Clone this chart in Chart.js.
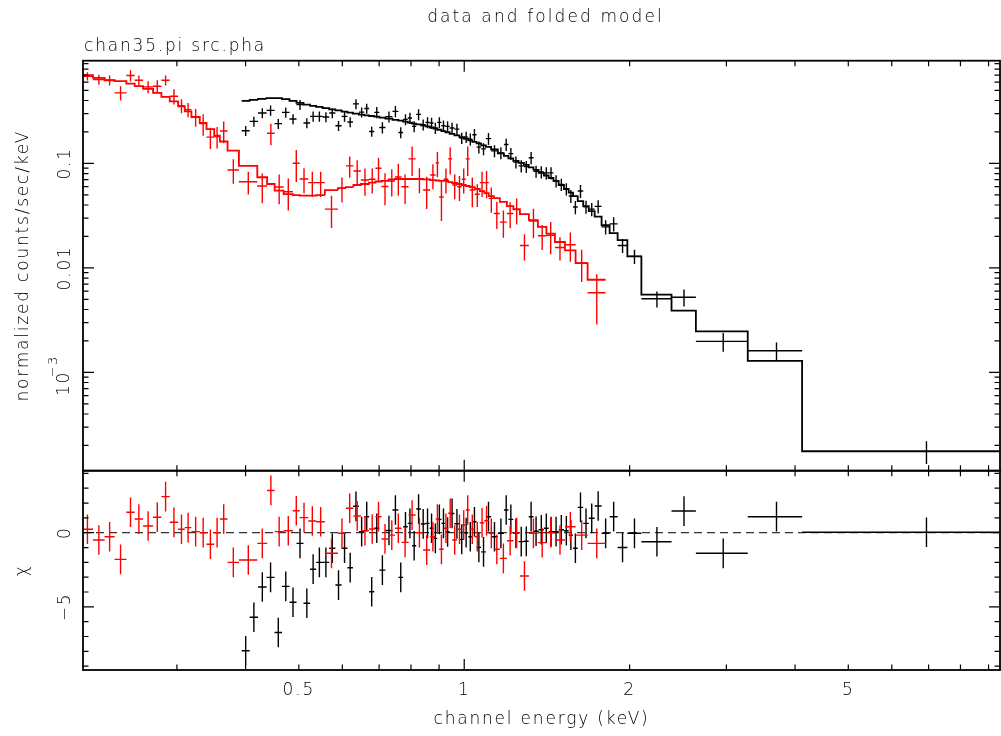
<!DOCTYPE html>
<html>
<head>
<meta charset="utf-8">
<script src="https://cdn.jsdelivr.net/npm/chart.js@4/dist/chart.umd.min.js"></script>
<style>
  html, body { margin: 0; padding: 0; background: #ffffff; }
  #wrap { position: relative; width: 1001px; height: 736px; }
  #wrap canvas { position: absolute; left: 0; top: 0; }
</style>
</head>
<body>
<div id="wrap">
  <canvas id="spec" width="1001" height="736"></canvas>
  <canvas id="resid" width="1001" height="736"></canvas>
</div>
<script>
// ---- spectrum group 2 (red): channel energy (keV), half bin width, rate, error, folded model, chi ----
const redEnergy = [0.2062,0.2163,0.2263,0.2369,0.2470,0.2558,0.2659,0.2763,0.2861,0.2963,
  0.3058,0.3144,0.3245,0.3349,0.3452,0.3550,0.3650,0.3800,0.4046,0.4290,
  0.4448,0.4605,0.4784,0.4947,0.5110,0.5291,0.5479,0.5734,0.5991,0.6189,
  0.6386,0.6597,0.6801,0.6982,0.7175,0.7382,0.7587,0.7805,0.8038,0.8288,
  0.8544,0.8770,0.8937,0.9089,0.9263,0.9429,0.9609,0.9803,0.9979,1.0148,
  1.0343,1.0563,1.0775,1.0981,1.1202,1.1464,1.1783,1.2123,1.2458,1.2871,
  1.3365,1.3864,1.4367,1.4938,1.5600,1.6359,1.7427];
const redHalfWidth = [0.0049,0.0053,0.0048,0.0059,0.0043,0.0045,0.0056,0.0048,0.0050,0.0052,
  0.0043,0.0044,0.0057,0.0048,0.0056,0.0042,0.0059,0.0091,0.0156,0.0089,
  0.0070,0.0087,0.0092,0.0072,0.0092,0.0089,0.0099,0.0157,0.0101,0.0098,
  0.0100,0.0111,0.0093,0.0088,0.0105,0.0102,0.0104,0.0115,0.0119,0.0131,
  0.0126,0.0101,0.0066,0.0086,0.0088,0.0079,0.0101,0.0093,0.0084,0.0085,
  0.0110,0.0111,0.0102,0.0104,0.0118,0.0144,0.0175,0.0165,0.0171,0.0243,
  0.0252,0.0247,0.0256,0.0315,0.0347,0.0412,0.0656];
const redRate = [0.683,0.635,0.625,0.473,0.694,0.625,0.540,0.548,0.625,0.439,
  0.357,0.327,0.278,0.240,0.1786,0.181,0.204,0.0866,0.0668,0.0608,
  0.1943,0.0594,0.0536,0.1004,0.0709,0.0654,0.0654,0.0365,0.0577,0.0946,
  0.0847,0.0693,0.0705,0.0899,0.0601,0.0679,0.0741,0.0597,0.1105,0.0709,
  0.0556,0.0775,0.1011,0.0477,0.0705,0.1105,0.0621,0.0597,0.0705,0.1105,
  0.0556,0.0506,0.0654,0.0654,0.0463,0.0332,0.0274,0.0332,0.0361,0.0164,
  0.0280,0.0203,0.0205,0.0157,0.01664,0.01112,0.00578];
const redError = [0.061,0.070,0.069,0.073,0.085,0.069,0.072,0.077,0.069,0.073,
  0.055,0.051,0.054,0.056,0.041,0.042,0.048,0.0227,0.0164,0.0192,
  0.0455,0.0187,0.0182,0.034,0.0191,0.0176,0.0176,0.0124,0.0155,0.0218,
  0.0222,0.0202,0.019,0.0236,0.0204,0.0198,0.0251,0.0188,0.0348,0.0191,
  0.0189,0.0208,0.0272,0.0196,0.019,0.0323,0.0167,0.0161,0.019,0.0348,
  0.0175,0.0124,0.0176,0.0191,0.0125,0.0097,0.0080,0.0093,0.0101,0.0046,
  0.0088,0.0055,0.0070,0.0039,0.0052,0.0038,0.0029];
const redModel = [0.699,0.659,0.625,0.612,0.581,0.548,0.517,0.473,0.433,0.393,
  0.352,0.315,0.278,0.2435,0.213,0.1838,0.162,0.1327,0.0946,0.0737,
  0.0635,0.0548,0.0509,0.0498,0.0492,0.0492,0.0498,0.0556,0.0581,0.0594,
  0.0621,0.0635,0.0654,0.0671,0.0679,0.0702,0.0709,0.0709,0.0709,0.0709,
  0.0702,0.0693,0.0686,0.0679,0.0679,0.0663,0.0649,0.0635,0.0621,0.0608,
  0.0594,0.0569,0.0544,0.0520,0.0487,0.0466,0.0429,0.0390,0.0365,0.0327,
  0.0286,0.0247,0.0213,0.0177,0.0147,0.0111,0.0077];
const redChi = [0.23,-0.49,-0.27,-1.8,1.38,0.92,0.45,1.04,2.43,0.70,
  0.23,0.34,0.07,0,-0.78,0,0.92,-2.0,-1.84,-0.72,
  2.85,0.07,0.13,1.48,1.02,0.79,0.74,-1.39,-0.04,1.65,
  1.13,0.13,0.25,1.08,-0.42,-0.16,0.3,-0.65,1.19,0,
  -1.17,-0.27,0.92,-1.12,0.3,1.31,-0.49,0.23,0.52,1.53,
  0.23,-0.27,0.67,0.81,-0.04,-1.12,-1.73,-0.54,0,-2.92,
  -0.04,-0.67,0,-0.49,0.4,-0.16,-0.72];

// ---- spectrum group 1 (black) ----
const blackEnergy = [0.4002,0.4142,0.4291,0.4442,0.4588,0.4734,0.4880,0.5025,0.5171,0.5309,
  0.5450,0.5601,0.5753,0.5905,0.6056,0.6201,0.6353,0.6506,0.6646,0.6786,
  0.6932,0.7097,0.7295,0.7495,0.7665,0.7818,0.7965,0.8107,0.8259,0.8420,
  0.8575,0.8721,0.8861,0.9011,0.9167,0.9327,0.9503,0.9699,0.9896,1.0081,
  1.0258,1.0438,1.0633,1.0843,1.1071,1.1352,1.1661,1.1923,1.2158,1.2419,
  1.2699,1.2971,1.3235,1.3513,1.3812,1.4105,1.4389,1.4695,1.5022,1.5341,
  1.5634,1.5933,1.6278,1.6659,1.7063,1.7529,1.8087,1.8705,1.9415,2.0410,
  2.2424,2.5119,2.9605,3.7009,6.938];
const blackHalfWidth = [0.0067,0.0073,0.0077,0.0075,0.0072,0.0075,0.0072,0.0074,0.0072,0.0067,
  0.0074,0.0078,0.0075,0.0077,0.0074,0.0072,0.0080,0.0073,0.0068,0.0072,
  0.0075,0.0091,0.0108,0.0093,0.0077,0.0076,0.0072,0.0070,0.0082,0.0080,
  0.0076,0.0070,0.0071,0.0080,0.0077,0.0083,0.0094,0.0102,0.0096,0.0089,
  0.0088,0.0092,0.0103,0.0107,0.0121,0.0160,0.0149,0.0113,0.0123,0.0138,
  0.0142,0.0131,0.0134,0.0145,0.0154,0.0140,0.0145,0.0161,0.0167,0.0152,
  0.0141,0.0158,0.0188,0.0193,0.0212,0.0255,0.0304,0.0314,0.0396,0.0600,
  0.1415,0.1281,0.3206,0.4199,2.818];
const blackRate = [0.2054,0.2523,0.3040,0.3218,0.240,0.3080,0.2661,0.365,0.2435,0.2818,
  0.2818,0.278,0.304,0.2294,0.2818,0.2489,0.3709,0.3093,0.3357,0.2022,
  0.308,0.2205,0.280,0.315,0.1978,0.2638,0.2720,0.2259,0.2945,0.235,
  0.2467,0.2435,0.2181,0.2467,0.2294,0.2259,0.2181,0.213,0.1747,0.1786,
  0.1709,0.188,0.1431,0.1378,0.1728,0.1319,0.1262,0.1516,0.1240,0.1029,
  0.0946,0.0932,0.1134,0.0838,0.0828,0.0811,0.0811,0.0679,0.0628,0.0569,
  0.0487,0.0382,0.0544,0.0384,0.0365,0.0388,0.0247,0.0264,0.0164,0.0129,
  0.00506,0.00524,0.00198,0.00161,0.0001758];
const blackError = [0.0227,0.0279,0.0337,0.0356,0.0266,0.0341,0.0295,0.0404,0.0270,0.0312,
  0.0312,0.0308,0.0337,0.0254,0.0312,0.0276,0.0411,0.0342,0.0372,0.0224,
  0.0376,0.0269,0.0342,0.0384,0.0241,0.0322,0.0332,0.0276,0.0359,0.0287,
  0.0301,0.0297,0.0266,0.0301,0.0280,0.0276,0.0266,0.0260,0.0213,0.0218,
  0.0227,0.0250,0.0190,0.0183,0.0230,0.0175,0.0168,0.0202,0.0165,0.0137,
  0.0126,0.0124,0.0151,0.0111,0.0110,0.0108,0.0108,0.0090,0.0084,0.0076,
  0.0070,0.0055,0.0078,0.0055,0.0053,0.0056,0.0038,0.0041,0.0025,0.0020,
  0.00088,0.00097,0.00040,0.00032,0.000043];
const blackModel = [0.3963,0.4052,0.4143,0.4217,0.4217,0.4124,0.3963,0.3791,0.365,0.3548,
  0.3470,0.3379,0.3283,0.3211,0.3127,0.306,0.2992,0.293,0.2881,0.2843,
  0.280,0.2739,0.2679,0.2608,0.2563,0.251,0.2451,0.240,0.236,0.2309,
  0.2259,0.2205,0.2157,0.210,0.204,0.1986,0.192,0.1851,0.1786,0.1720,
  0.1664,0.161,0.1557,0.1490,0.144,0.1364,0.1248,0.1181,0.1117,0.1057,
  0.1011,0.0968,0.0915,0.0866,0.0811,0.0766,0.0725,0.0679,0.0621,0.0569,
  0.0526,0.0487,0.0436,0.0390,0.0349,0.0309,0.0256,0.0215,0.0184,0.0129,
  0.00556,0.00390,0.00247,0.00129,0.0001758];
const blackChi = [-7.96,-5.7,-3.66,-3.01,-6.73,-3.62,-4.69,-0.72,-4.76,-2.46,
  -2.0,-2.0,-1.05,-3.53,-1.05,-2.36,1.78,0.07,1.08,-3.98,
  0.3,-2.52,0.15,1.53,-3.01,0.4,0.63,-0.88,1.6,0.59,
  0.63,0.3,-0.38,0.9,0.63,0.05,1.3,0.6,-0.45,0,
  -0.27,0.74,-0.99,-1.29,1.08,-0.27,-0.04,1.53,0.9,-0.04,
  -0.6,-0.58,1.08,0.1,0.2,0.3,0.07,0.07,0.2,0.13,
  -0.16,-1.05,1.71,0.63,0.97,1.8,-0.04,1.08,-1.0,-0.04,
  -0.61,1.46,-1.39,1.08,0.03];

// ---- axes ----
const energyMin = 0.2024, energyMax = 9.442;
const rateMin = 1.1463e-4, rateMax = 0.9611;
const chiMin = -9.258, chiMax = 4.181;
const energyTickLabels = [0.5, 1, 2, 5];
const rateTickLabels = [0.1, 0.01, 0.001];
const chiTickLabels = [0, -5];

const FONT = '"DejaVu Sans", "Liberation Sans", sans-serif';
const INK = '#000000';
const PLOT_LEFT = 83, PLOT_RIGHT = 1000;
const SPEC_TOP = 60.7, SPLIT = 470.7, RESID_BOTTOM = 670;

function crossPoints(energy, values) {
  return energy.map((e, i) => ({ x: e, y: values[i] }));
}
// model histogram: a flat segment across every channel bin
function stepPoints(energy, halfWidth, model) {
  const pts = [];
  energy.forEach((e, i) => {
    pts.push({ x: e - halfWidth[i], y: model[i] });
    pts.push({ x: e + halfWidth[i], y: model[i] });
  });
  return pts;
}

function logTicks(min, max) {
  const out = [];
  for (let p = Math.floor(Math.log10(min)); p <= Math.ceil(Math.log10(max)); p++) {
    for (let k = 1; k <= 9; k++) {
      const v = k * Math.pow(10, p);
      if (v >= min && v <= max) out.push({ v, major: k === 1 });
    }
  }
  return out;
}

function label(ctx, text, x, y, opt = {}) {
  ctx.save();
  ctx.font = '300 ' + (opt.size || 17) + 'px ' + FONT;
  ctx.fillStyle = INK;
  ctx.letterSpacing = (opt.spacing === undefined ? 1.8 : opt.spacing) + 'px';
  ctx.textAlign = opt.align || 'center';
  ctx.textBaseline = 'alphabetic';
  ctx.translate(x, y);
  if (opt.rotate) ctx.rotate(-Math.PI / 2);
  ctx.fillText(text, 0, 0);
  ctx.restore();
}

function drawFrameAndTicks(chart, yTicks) {
  const { ctx, chartArea: a } = chart;
  const xs = chart.scales.x, ys = chart.scales.y;
  ctx.save();
  ctx.strokeStyle = '#000';
  ctx.lineWidth = 1.2;
  ctx.beginPath();
  logTicks(energyMin, energyMax).forEach(t => {
    const px = xs.getPixelForValue(t.v);
    const len = t.major ? 11 : 5.5;
    ctx.moveTo(px, a.bottom); ctx.lineTo(px, a.bottom - len);
    ctx.moveTo(px, a.top); ctx.lineTo(px, a.top + len);
  });
  yTicks.forEach(t => {
    const py = ys.getPixelForValue(t.v);
    const len = t.major ? 11 : 5.5;
    ctx.moveTo(a.left, py); ctx.lineTo(a.left + len, py);
    ctx.moveTo(a.right, py); ctx.lineTo(a.right - len, py);
  });
  ctx.stroke();
  ctx.lineWidth = 1.8;
  ctx.strokeRect(a.left, a.top, a.right - a.left, a.bottom - a.top);
  ctx.restore();
}

// error crosses: bin width horizontally, one sigma vertically
const crossPlugin = {
  id: 'crosses',
  afterDatasetDraw(chart, args) {
    const ds = chart.data.datasets[args.index];
    if (!ds.xErr) return;
    const { ctx, chartArea: a } = chart;
    const xs = chart.scales.x, ys = chart.scales.y;
    ctx.save();
    ctx.beginPath();
    ctx.rect(a.left, a.top, a.right - a.left, a.bottom - a.top);
    ctx.clip();
    ctx.strokeStyle = ds.crossColor;
    ctx.lineWidth = 1.4;
    ctx.beginPath();
    ds.data.forEach((p, i) => {
      const cx = xs.getPixelForValue(p.x);
      const cy = ys.getPixelForValue(p.y);
      ctx.moveTo(xs.getPixelForValue(p.x - ds.xErr[i]), cy);
      ctx.lineTo(xs.getPixelForValue(p.x + ds.xErr[i]), cy);
      const lo = p.y - ds.yErr[i];
      const yLo = (ys.type === 'logarithmic' && lo <= 0) ? a.bottom : ys.getPixelForValue(lo);
      ctx.moveTo(cx, yLo);
      ctx.lineTo(cx, ys.getPixelForValue(p.y + ds.yErr[i]));
    });
    ctx.stroke();
    ctx.restore();
  }
};

const specDecor = {
  id: 'specDecor',
  afterDraw(chart) {
    const ctx = chart.ctx;
    drawFrameAndTicks(chart, logTicks(rateMin, rateMax));
    label(ctx, 'data and folded model', (PLOT_LEFT + PLOT_RIGHT) / 2 + 4, 22, { spacing: 2.1 });
    label(ctx, 'chan35.pi src.pha', 84, 51, { align: 'left' });
    label(ctx, 'normalized counts/sec/keV', 28, (SPEC_TOP + SPLIT) / 2, { rotate: true });
    const ys = chart.scales.y;
    rateTickLabels.forEach(v => {
      const py = ys.getPixelForValue(v);
      if (v >= 0.01) {
        label(ctx, String(v), 70, py, { rotate: true });
      } else {
        const exp = Math.round(Math.log10(v));
        label(ctx, '10', 69, py + 11, { rotate: true, spacing: 1.5 });
        label(ctx, '\u2212' + Math.abs(exp), 57, py - 6, { rotate: true, size: 13, spacing: 1.2 });
      }
    });
  }
};

const residDecor = {
  id: 'residDecor',
  beforeDatasetsDraw(chart) {
    const { ctx, chartArea: a } = chart;
    const py = chart.scales.y.getPixelForValue(0);
    ctx.save();
    ctx.strokeStyle = '#333';
    ctx.lineWidth = 1.3;
    ctx.setLineDash([8, 5]);
    ctx.beginPath();
    ctx.moveTo(a.left, py); ctx.lineTo(a.right, py);
    ctx.stroke();
    ctx.restore();
  },
  afterDraw(chart) {
    const ctx = chart.ctx;
    const yt = [];
    for (let v = Math.ceil(chiMin); v <= Math.floor(chiMax); v++) yt.push({ v, major: v % 5 === 0 });
    drawFrameAndTicks(chart, yt);
    const xs = chart.scales.x, ys = chart.scales.y;
    energyTickLabels.forEach(v => label(ctx, String(v), xs.getPixelForValue(v), 695));
    label(ctx, 'channel energy (keV)', (PLOT_LEFT + PLOT_RIGHT) / 2, 724);
    chiTickLabels.forEach(v => label(ctx, v < 0 ? '\u2212' + Math.abs(v) : String(v), 70, ys.getPixelForValue(v), { rotate: true }));
    label(ctx, '\u03c7', 27, (SPLIT + RESID_BOTTOM) / 2, { rotate: true });
  }
};

const baseOptions = (padding, yScale) => ({
  responsive: false,
  animation: false,
  devicePixelRatio: 1,
  events: [],
  layout: { padding },
  plugins: { legend: { display: false }, tooltip: { enabled: false }, title: { display: false } },
  scales: {
    x: { type: 'logarithmic', min: energyMin, max: energyMax, bounds: 'data', display: false },
    y: yScale
  }
});

const modelStyle = (color, order) => ({
  showLine: true, borderColor: color, borderWidth: 1.8, pointRadius: 0,
  fill: false, tension: 0, order
});

new Chart(document.getElementById('spec'), {
  type: 'scatter',
  data: {
    datasets: [
      { label: 'chan35.pi', data: crossPoints(blackEnergy, blackRate), xErr: blackHalfWidth, yErr: blackError,
        crossColor: '#000000', pointRadius: 0, order: 4 },
      Object.assign({ label: 'chan35.pi model', data: stepPoints(blackEnergy, blackHalfWidth, blackModel) }, modelStyle('#000000', 3)),
      { label: 'src.pha', data: crossPoints(redEnergy, redRate), xErr: redHalfWidth, yErr: redError,
        crossColor: '#ff0000', pointRadius: 0, order: 2 },
      Object.assign({ label: 'src.pha model', data: stepPoints(redEnergy, redHalfWidth, redModel) }, modelStyle('#ff0000', 1))
    ]
  },
  options: baseOptions({ left: PLOT_LEFT, right: 1001 - PLOT_RIGHT, top: SPEC_TOP, bottom: 736 - SPLIT },
    { type: 'logarithmic', min: rateMin, max: rateMax, bounds: 'data', display: false }),
  plugins: [crossPlugin, specDecor]
});

new Chart(document.getElementById('resid'), {
  type: 'scatter',
  data: {
    datasets: [
      { label: 'chan35.pi chi', data: crossPoints(blackEnergy, blackChi), xErr: blackHalfWidth,
        yErr: blackChi.map(() => 1), crossColor: '#000000', pointRadius: 0, order: 2 },
      { label: 'src.pha chi', data: crossPoints(redEnergy, redChi), xErr: redHalfWidth,
        yErr: redChi.map(() => 1), crossColor: '#ff0000', pointRadius: 0, order: 1 }
    ]
  },
  options: baseOptions({ left: PLOT_LEFT, right: 1001 - PLOT_RIGHT, top: SPLIT, bottom: 736 - RESID_BOTTOM },
    { type: 'linear', min: chiMin, max: chiMax, bounds: 'data', display: false }),
  plugins: [crossPlugin, residDecor]
});
</script>
</body>
</html>
